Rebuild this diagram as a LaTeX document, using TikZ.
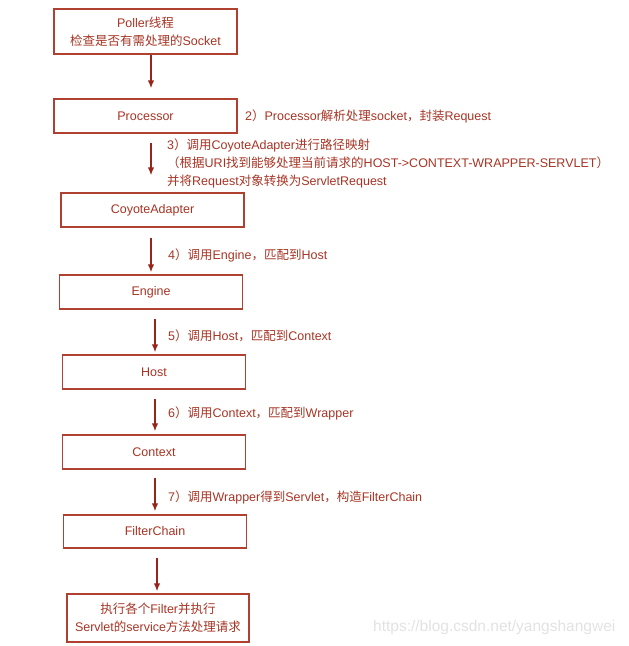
\documentclass[tikz,border=0pt]{standalone}
\usepackage{fontspec}
\setmainfont{Liberation Sans}
\newfontfamily\hanfont{Noto Sans CJK SC}
\usepackage{tikz}
\usetikzlibrary{arrows.meta}
% switch to the CJK font for Han characters and full-width punctuation
\XeTeXinterchartokenstate=1
\newXeTeXintercharclass\hanclass
\newcount\hancnt
\hancnt="4E00
\loop
  \XeTeXcharclass\hancnt=\hanclass
  \ifnum\hancnt<"9FFF \advance\hancnt by 1 \repeat
\XeTeXcharclass"FF08=\hanclass
\XeTeXcharclass"FF09=\hanclass
\XeTeXcharclass"FF0C=\hanclass
\XeTeXinterchartoks 0 \hanclass={\begingroup\hanfont}
\XeTeXinterchartoks 4095 \hanclass={\begingroup\hanfont}
\XeTeXinterchartoks \hanclass 0={\endgroup}
\XeTeXinterchartoks \hanclass 4095={\endgroup}
\definecolor{boxred}{RGB}{176,64,48}
\definecolor{textred}{RGB}{166,52,36}
\definecolor{arrred}{RGB}{150,38,28}
\definecolor{markgray}{RGB}{226,226,226}
\tikzset{
    every node/.style={font=\fontsize{12.5pt}{18pt}\selectfont, text=textred}
}
\tikzset{
    box/.style={rectangle, draw=boxred, line width=1.4pt, minimum width=183pt,
    	minimum height=34pt, inner sep=0pt, align=center}
}
\tikzset{
    lab/.style={anchor=west, inner sep=0pt, align=left},
    arr/.style={draw=arrred, line width=1.4pt, -{Latex[length=8pt,width=6.5pt]}}
}

\begin{document}
\begin{tikzpicture}
  \useasboundingbox (0pt, 0pt) rectangle (629pt, -646pt);

  \node (poller) [box, minimum height=45pt] at (145.5pt, -31.5pt) {Poller线程\\检查是否有需处理的Socket};
  \node (processor) [box] at (145.5pt, -116pt) {Processor};
  \node (adapter) [box] at (152.5pt, -210pt) {CoyoteAdapter};
  \node (engine) [box] at (151pt, -292pt) {Engine};
  \node (host) [box] at (154pt, -372pt) {Host};
  \node (context) [box] at (154pt, -452pt) {Context};
  \node (chain) [box, minimum height=33pt] at (155pt, -531.5pt) {FilterChain};
  \node (exec) [box, minimum width=182pt, minimum height=48pt] at (158pt, -618pt) {执行各个Filter并执行\\Servlet的service方法处理请求};

  \node (l2) [lab] at (245pt, -116pt) {2）Processor解析处理socket，封装Request};
  \node (l3) [lab] at (167pt, -163pt) {3）调用CoyoteAdapter进行路径映射\\（根据URI找到能够处理当前请求的HOST->CONTEXT-WRAPPER-SERVLET）\\并将Request对象转换为ServletRequest};
  \node (l4) [lab] at (168pt, -255pt) {4）调用Engine，匹配到Host};
  \node (l5) [lab] at (168pt, -336pt) {5）调用Host，匹配到Context};
  \node (l6) [lab] at (168pt, -413pt) {6）调用Context，匹配到Wrapper};
  \node (l7) [lab] at (168pt, -497pt) {7）调用Wrapper得到Servlet，构造FilterChain};

  \node (mark) [lab, text=markgray, font=\fontsize{15.5pt}{17pt}\selectfont] at (373pt, -627pt) {https://blog.csdn.net/yangshangwei};

  \coordinate (x1) at (151pt, 0pt);
  \coordinate (x2) at (155pt, 0pt);
  \coordinate (x3) at (157pt, 0pt);

  \draw [arr, shorten >=10pt] (poller.south -| x1) -- (processor.north -| x1);
  \draw [arr, shorten <=9pt, shorten >=17pt] (processor.south -| x1) -- (adapter.north -| x1);
  \draw [arr, shorten <=10pt, shorten >=2pt] (adapter.south -| x1) -- (engine.north -| x1);
  \draw [arr, shorten <=9pt, shorten >=2pt] (engine.south -| x2) -- (host.north -| x2);
  \draw [arr, shorten <=9pt, shorten >=3pt] (host.south -| x2) -- (context.north -| x2);
  \draw [arr, shorten <=8pt, shorten >=3pt] (context.south -| x2) -- (chain.north -| x2);
  \draw [arr, shorten <=9pt, shorten >=2pt] (chain.south -| x3) -- (exec.north -| x3);
\end{tikzpicture}
\end{document}
